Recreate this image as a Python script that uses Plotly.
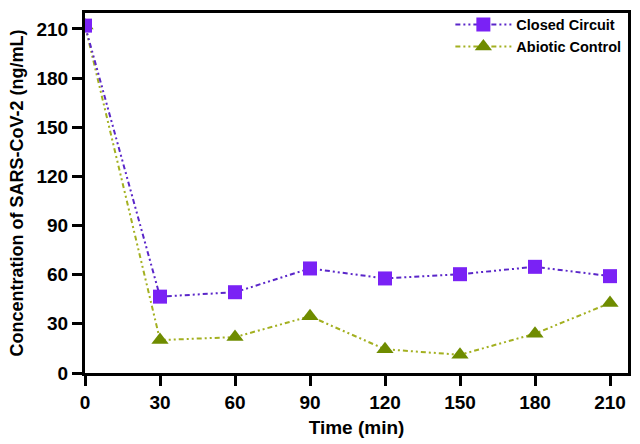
import plotly.graph_objects as go

time_min = [0, 30, 60, 90, 120, 150, 180, 210]
closed_circuit = [212, 46.6, 49.3, 63.8, 57.7, 60.3, 64.8, 59.1]
abiotic_control = [212, 20.1, 21.9, 34.6, 14.5, 11.1, 24.0, 42.7]
tick_vals_x = [0, 30, 60, 90, 120, 150, 180, 210]
tick_vals_y = [0, 30, 60, 90, 120, 150, 180, 210]

font_family = "Liberation Sans, Arial, sans-serif"
dash_pattern = "5px,3px,2px,3px,2px,3px"

fig = go.Figure()

fig.add_trace(go.Scatter(
    x=time_min, y=abiotic_control, name="Abiotic Control",
    mode="lines+markers",
    line=dict(color="#a3b020", width=2, dash=dash_pattern),
    marker=dict(symbol="triangle-up", size=15, color="#6f8c00"),
))
fig.add_trace(go.Scatter(
    x=time_min, y=closed_circuit, name="Closed Circuit",
    mode="lines+markers",
    line=dict(color="#5a26c9", width=2, dash=dash_pattern),
    marker=dict(symbol="square", size=14, color="#7a22f5"),
))

axis_common = dict(
    showline=True, linecolor="black", linewidth=3, mirror=True,
    ticks="outside", ticklen=10, tickwidth=3, tickcolor="black",
    showgrid=False, zeroline=False,
    tickfont=dict(family=font_family, size=19, color="black", weight="bold"),
)

fig.update_xaxes(
    range=[0, 217.2], tickvals=tick_vals_x,
    title=dict(text="<b>Time (min)</b>", font=dict(family=font_family, size=19, color="black"), standoff=9),
    **axis_common,
)
fig.update_yaxes(
    range=[0, 219.7], tickvals=tick_vals_y,
    title=dict(text="<b>Concentration of SARS-CoV-2 (ng/mL)</b>", font=dict(family=font_family, size=18, color="black"), standoff=9),
    **axis_common,
)

fig.update_layout(
    width=640, height=444,
    margin=dict(l=85, r=9, t=10, b=70),
    plot_bgcolor="white", paper_bgcolor="white",
    legend=dict(
        x=0.997, y=1.012, xanchor="right", yanchor="top",
        traceorder="reversed", tracegroupgap=0, itemwidth=56,
        font=dict(family=font_family, size=14.5, color="black", weight="bold"),
        bgcolor="rgba(0,0,0,0)",
    ),
)

fig.write_html("out.html", config={"displayModeBar": False},
               post_script="document.body.style.margin='0';")
